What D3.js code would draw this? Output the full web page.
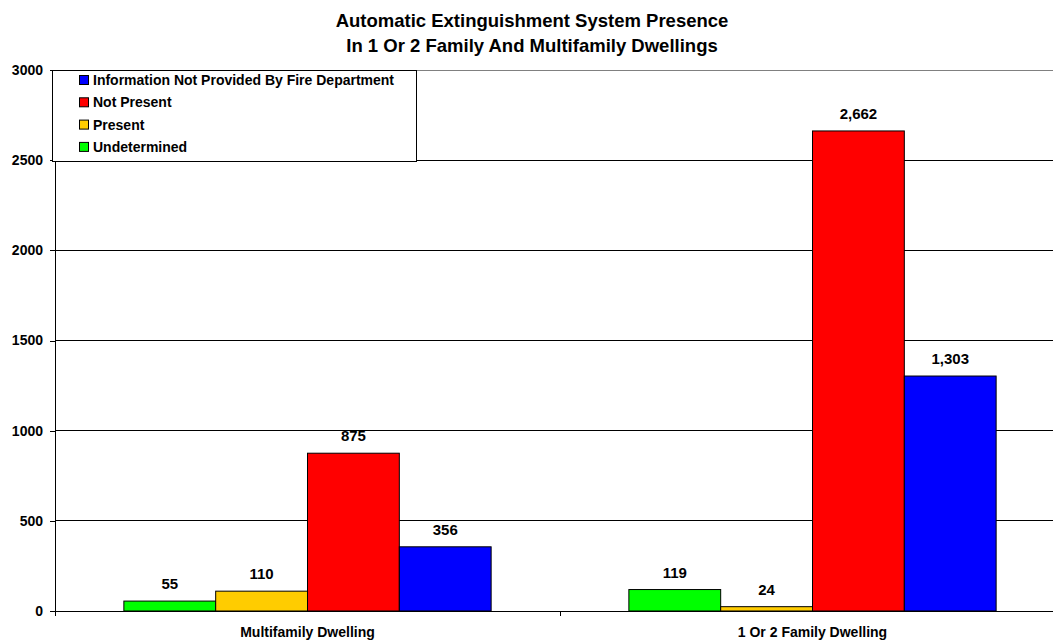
<!DOCTYPE html>
<html>
<head>
<meta charset="utf-8">
<script src="https://cdn.jsdelivr.net/npm/d3@7"></script>
<style>
  body { margin: 0; background: #fff; }
  svg { font-family: Arial, "Liberation Sans", sans-serif; }
</style>
</head>
<body>
<svg id="chart"></svg>
<script>
// chart data
const categories = ["Multifamily Dwelling", "1 Or 2 Family Dwelling"];
const seriesNames = ["Undetermined", "Present", "Not Present", "Information Not Provided By Fire Department"];
const seriesColors = ["#00ff00", "#ffcc00", "#ff0000", "#0000ff"];
const undetermined = [55, 119];
const present = [110, 24];
const notPresent = [875, 2662];
const infoNotProvided = [356, 1303];
const yTicks = [0, 500, 1000, 1500, 2000, 2500, 3000];
const titleLines = ["Automatic Extinguishment System Presence", "In 1 Or 2 Family And Multifamily Dwellings"];

const seriesValues = [undetermined, present, notPresent, infoNotProvided];

const width = 1053, height = 641;
const margin = { top: 70, left: 55, bottom: 30 };
const plotRight = 1065; // plot continues past the page edge

const svg = d3.select("#chart")
    .attr("width", width)
    .attr("height", height);

const y = d3.scaleLinear()
    .domain([0, 3000])
    .range([611, 70]);

const x0 = d3.scaleBand()
    .domain(categories)
    .range([margin.left, plotRight])
    .paddingInner(0)
    .paddingOuter(0);

const x1 = d3.scaleBand()
    .domain(seriesNames)
    .range([0, x0.bandwidth()])
    .paddingInner(0)
    .paddingOuter(0.75);

// gridlines
svg.append("g")
    .selectAll("line")
    .data(yTicks.filter(d => d > 0))
    .join("line")
    .attr("x1", margin.left)
    .attr("x2", width)
    .attr("y1", d => y(d))
    .attr("y2", d => y(d))
    .attr("stroke", d => d === 3000 ? "#808080" : "#000")
    .attr("stroke-width", 1)
    .attr("shape-rendering", "crispEdges");

// y axis
const yAxis = svg.append("g")
    .attr("transform", `translate(${margin.left},0)`)
    .call(d3.axisLeft(y).tickValues(yTicks).tickSize(5).tickPadding(7).tickFormat(d3.format("d")));
yAxis.select(".domain").attr("stroke", "#000").attr("shape-rendering", "crispEdges");
yAxis.selectAll(".tick line").attr("stroke", "#000").attr("shape-rendering", "crispEdges");
yAxis.selectAll("text")
    .attr("font-size", 14)
    .attr("font-weight", "bold")
    .attr("fill", "#000")
    .attr("font-family", "Arial, 'Liberation Sans', sans-serif");

// bars
const groups = svg.append("g")
    .selectAll("g")
    .data(categories)
    .join("g")
    .attr("transform", d => `translate(${x0(d)},0)`);

groups.selectAll("rect")
    .data((c, ci) => seriesNames.map((s, si) => ({ s, si, v: seriesValues[si][ci] })))
    .join("rect")
    .attr("x", d => x1(d.s))
    .attr("y", d => y(d.v))
    .attr("width", x1.bandwidth())
    .attr("height", d => y(0) - y(d.v))
    .attr("fill", d => seriesColors[d.si])
    .attr("stroke", "#000")
    .attr("stroke-width", 1);

groups.selectAll("text.val")
    .data((c, ci) => seriesNames.map((s, si) => ({ s, si, v: seriesValues[si][ci] })))
    .join("text")
    .attr("class", "val")
    .attr("x", d => x1(d.s) + x1.bandwidth() / 2)
    .attr("y", d => y(d.v) - 12)
    .attr("text-anchor", "middle")
    .attr("font-size", 15)
    .attr("font-weight", "bold")
    .text(d => d3.format(",")(d.v));

// x axis
svg.append("line")
    .attr("x1", margin.left).attr("x2", width)
    .attr("y1", y(0)).attr("y2", y(0))
    .attr("stroke", "#000")
    .attr("shape-rendering", "crispEdges");

svg.append("g")
    .selectAll("line")
    .data(categories)
    .join("line")
    .attr("x1", d => x0(d)).attr("x2", d => x0(d))
    .attr("y1", y(0)).attr("y2", y(0) + 5)
    .attr("stroke", "#000")
    .attr("shape-rendering", "crispEdges");

svg.append("g")
    .selectAll("text")
    .data(categories)
    .join("text")
    .attr("x", d => x0(d) + x0.bandwidth() / 2)
    .attr("y", 637)
    .attr("text-anchor", "middle")
    .attr("font-size", 14)
    .attr("font-weight", "bold")
    .text(d => d);

// title
svg.append("g")
    .selectAll("text")
    .data(titleLines)
    .join("text")
    .attr("x", 532)
    .attr("y", (d, i) => 27 + i * 25)
    .attr("text-anchor", "middle")
    .attr("font-size", 18.5)
    .attr("font-weight", "bold")
    .text(d => d);

// legend
const legend = svg.append("g");
legend.append("rect")
    .attr("x", 52.5).attr("y", 70.5)
    .attr("width", 364).attr("height", 91)
    .attr("fill", "#fff")
    .attr("stroke", "#000");

const legendItems = legend.selectAll("g")
    .data(seriesNames.slice().reverse())
    .join("g")
    .attr("transform", (d, i) => `translate(79,${80 + i * 22.3})`);

legendItems.append("rect")
    .attr("x", 0.5).attr("y", -4.5)
    .attr("width", 9).attr("height", 9)
    .attr("fill", d => seriesColors[seriesNames.indexOf(d)])
    .attr("stroke", "#000");

legendItems.append("text")
    .attr("x", 14)
    .attr("y", 5)
    .attr("font-size", 14)
    .attr("font-weight", "bold")
    .text(d => d);
</script>
</body>
</html>
